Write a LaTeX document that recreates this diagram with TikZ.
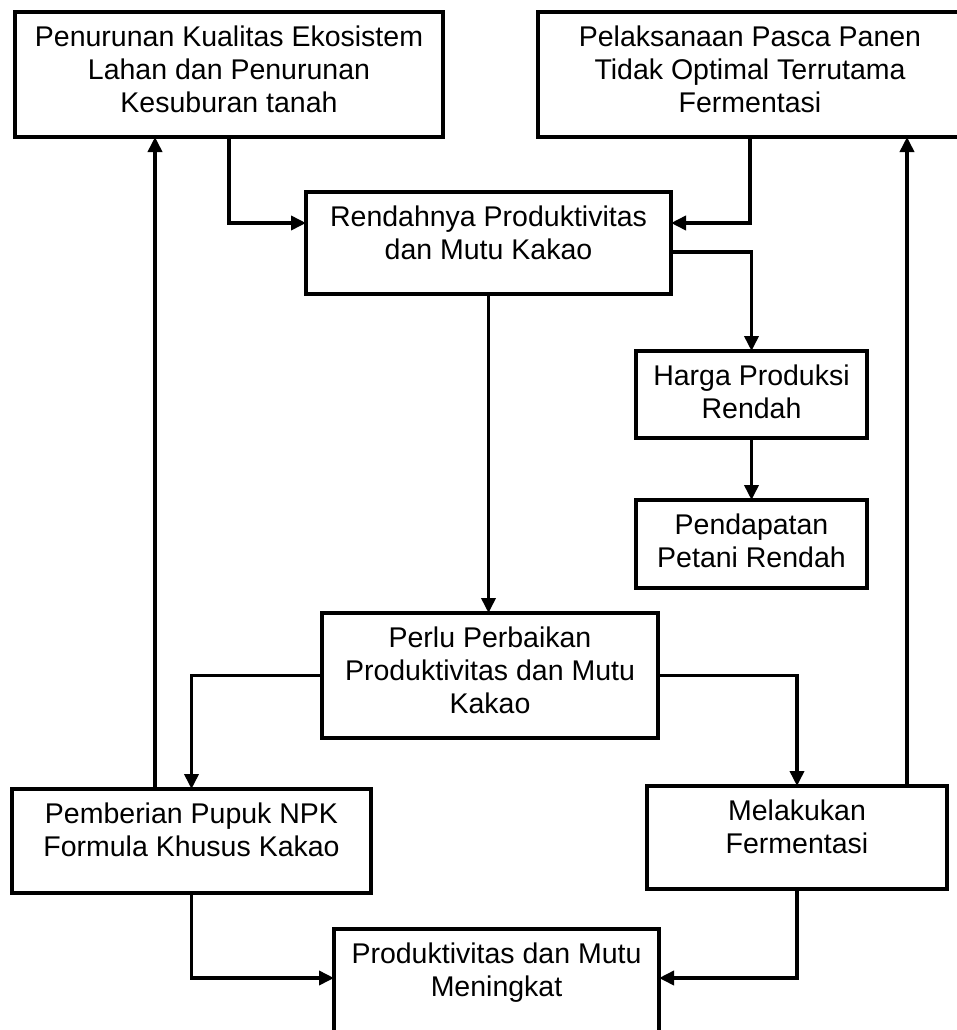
\documentclass[tikz,border=0pt]{standalone}
\usepackage{fontspec}
\setmainfont{Liberation Sans}
\usetikzlibrary{arrows.meta}
\begin{document}
\begin{tikzpicture}[x=1pt,y=-1pt,
  box/.style={draw=black,line width=3.5pt,minimum width=#1,inner sep=0pt,outer sep=0pt},
  arr/.style={line width=3.6pt,-{Triangle[width=14pt,length=15pt]}},
  lab/.style={anchor=north,yshift=-14pt,align=center,inner sep=0pt,font=\fontsize{28.5}{33}\selectfont}]
\useasboundingbox (0,0) rectangle (956,1030);
% boxes
\node[box=428pt,minimum height=125pt] (A) at (229,74.5) {};
\node[lab] at (A.north) {Penurunan Kualitas Ekosistem\\Lahan dan Penurunan\\Kesuburan tanah};
\node[box=424pt,minimum height=125pt] (B) at (750,74.5) {};
\node[lab] at (B.north) {Pelaksanaan Pasca Panen\\Tidak Optimal Terrutama\\Fermentasi};
\node[box=365pt,minimum height=102pt] (C) at (488.5,243) {};
\node[lab] at (C.north) {Rendahnya Produktivitas\\dan Mutu Kakao};
\node[box=231pt,minimum height=87pt] (H) at (751.5,394.5) {};
\node[lab] at (H.north) {Harga Produksi\\Rendah};
\node[box=231pt,minimum height=88pt] (P) at (751.5,544) {};
\node[lab] at (P.north) {Pendapatan\\Petani Rendah};
\node[box=336pt,minimum height=125pt] (R) at (490,675.5) {};
\node[lab] at (R.north) {Perlu Perbaikan\\Produktivitas dan Mutu\\Kakao};
\node[box=359pt,minimum height=104pt] (N) at (191.5,841) {};
\node[lab] at (N.north) {Pemberian Pupuk NPK\\Formula Khusus Kakao};
\node[box=300pt,minimum height=103pt] (F) at (797,837.5) {};
\node[lab] at (F.north) {Melakukan\\Fermentasi};
\node[box=325pt,minimum height=120pt] (D) at (496.5,989) {};
\node[lab] at (D.north) {Produktivitas dan Mutu\\Meningkat};
% helper coordinates
\coordinate (y1) at (0,223);
\coordinate (y2) at (0,252);
\coordinate (y3) at (0,978);
\coordinate (xa) at (155,0);
\coordinate (xb) at (907,0);
% connectors
\draw[arr] (A.south) |- (C.west |- y1);
\draw[arr] (B.south) |- (C.east |- y1);
\draw[arr] (C.east |- y2) -| (H.north);
\draw[arr] (H.south) -- (P.north);
\draw[arr] (C.south) -- (C.south |- R.north);
\draw[arr] (R.west) -| (N.north);
\draw[arr] (R.east) -| (F.north);
\draw[arr] (xa |- N.north) -- (xa |- A.south);
\draw[arr] (xb |- F.north) -- (xb |- B.south);
\draw[arr] (N.south) |- (D.west |- y3);
\draw[arr] (F.south) |- (D.east |- y3);
\end{tikzpicture}
\end{document}
